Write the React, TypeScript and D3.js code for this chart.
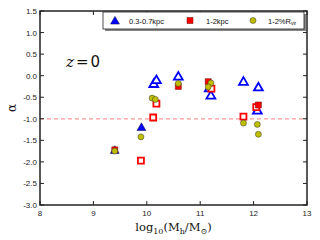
import { useEffect, useRef } from "react";
import * as d3 from "d3";

// log10(Mh/Msun) and alpha for each marker set
const triMass = [9.4, 9.9, 10.13, 10.18, 10.59, 11.17, 11.2, 11.81, 12.09, 12.07];
const triAlpha = [-1.72, -1.19, -0.18, -0.09, -0.01, -0.28, -0.45, -0.13, -0.26, -0.8];
const triOpen = [false, false, true, true, true, true, true, true, true, true];

const sqMass = [9.4, 9.89, 10.12, 10.18, 10.59, 11.15, 11.21, 11.81, 12.05, 12.09];
const sqAlpha = [-1.72, -1.97, -0.97, -0.65, -0.25, -0.14, -0.3, -0.95, -0.73, -0.68];
const sqOpen = [false, true, true, true, false, false, true, true, true, false];

const ciMass = [9.4, 9.89, 10.1, 10.16, 10.59, 11.2, 11.15, 11.81, 12.07, 12.09];
const ciAlpha = [-1.75, -1.42, -0.52, -0.55, -0.18, -0.17, -0.26, -1.1, -1.13, -1.36];

const xTicks = [8, 9, 10, 11, 12, 13];
const yTicks = [1.5, 1.0, 0.5, 0.0, -0.5, -1.0, -1.5, -2.0, -2.5, -3.0];
const legendLabels = ["0.3-0.7kpc", "1-2kpc", "1-2%R"];

const BLUE = "#0000ff";
const RED = "#ff0000";
const OLIVE = "#bfbf00";

const App = () => {
  const svgRef = useRef(null);

  useEffect(() => {
    const svg = d3.select(svgRef.current);
    svg.selectAll("*").remove();
    const width = 320;
    const height = 240;
    const margin = { top: 11, right: 13, bottom: 35, left: 40 };

    const x = d3.scaleLinear().domain([8, 13]).range([margin.left, width - margin.right]);
    const y = d3.scaleLinear().domain([-3, 1.5]).range([height - margin.bottom, margin.top]);
    const sans = "'Liberation Sans', Arial, sans-serif";
    const serif = "'DejaVu Serif', serif";

    // reference line
    svg
      .append("line")
      .attr("x1", x(8))
      .attr("x2", x(13))
      .attr("y1", y(-1))
      .attr("y2", y(-1))
      .attr("stroke", "#ff9999")
      .attr("stroke-width", 1.2)
      .attr("stroke-dasharray", "4,3");

    const tri = d3.symbol().type(d3.symbolTriangle).size(34);
    const sq = d3.symbol().type(d3.symbolSquare).size(36);

    triMass.forEach((m, i) => {
      const open = triOpen[i];
      svg
        .append("path")
        .attr("d", tri()!)
        .attr("transform", `translate(${x(m)},${y(triAlpha[i]) + 1})`)
        .attr("fill", open ? "#fff" : BLUE)
        .attr("stroke", open ? BLUE : "#000040")
        .attr("stroke-width", open ? 1.8 : 0.5);
    });

    sqMass.forEach((m, i) => {
      const open = sqOpen[i];
      svg
        .append("path")
        .attr("d", sq()!)
        .attr("transform", `translate(${x(m)},${y(sqAlpha[i])})`)
        .attr("fill", open ? "#fff" : RED)
        .attr("stroke", open ? RED : "#600")
        .attr("stroke-width", open ? 1.8 : 0.5);
    });

    ciMass.forEach((m, i) => {
      svg
        .append("circle")
        .attr("cx", x(m))
        .attr("cy", y(ciAlpha[i]))
        .attr("r", 3)
        .attr("fill", OLIVE)
        .attr("stroke", "#333")
        .attr("stroke-width", 0.5);
    });

    // frame
    svg
      .append("rect")
      .attr("x", x(8))
      .attr("y", y(1.5))
      .attr("width", x(13) - x(8))
      .attr("height", y(-3) - y(1.5))
      .attr("fill", "none")
      .attr("stroke", "#222")
      .attr("stroke-width", 1.5);

    // ticks, inward on all sides
    const tl = 4;
    xTicks.forEach((t) => {
      svg.append("line").attr("x1", x(t)).attr("x2", x(t)).attr("y1", y(-3)).attr("y2", y(-3) - tl).attr("stroke", "#222");
      svg.append("line").attr("x1", x(t)).attr("x2", x(t)).attr("y1", y(1.5)).attr("y2", y(1.5) + tl).attr("stroke", "#222");
      svg
        .append("text")
        .attr("x", x(t))
        .attr("y", y(-3) + 11)
        .attr("text-anchor", "middle")
        .attr("font-family", sans)
        .attr("font-size", 8)
        .attr("fill", "#222")
        .text(t);
    });
    yTicks.forEach((t) => {
      svg.append("line").attr("x1", x(8)).attr("x2", x(8) + tl).attr("y1", y(t)).attr("y2", y(t)).attr("stroke", "#222");
      svg.append("line").attr("x1", x(13)).attr("x2", x(13) - tl).attr("y1", y(t)).attr("y2", y(t)).attr("stroke", "#222");
      svg
        .append("text")
        .attr("x", x(8) - 3)
        .attr("y", y(t) + 3)
        .attr("text-anchor", "end")
        .attr("font-family", sans)
        .attr("font-size", 8)
        .attr("fill", "#222")
        .text(t.toFixed(1).replace("\u2212", "-"));
    });

    // z = 0 annotation
    const zt = svg
      .append("text")
      .attr("x", 66)
      .attr("y", 67)
      .attr("font-size", 15)
      .attr("fill", "#111");
    zt.append("tspan").attr("font-family", serif).attr("font-style", "italic").text("z");
    zt.append("tspan").attr("font-family", serif).attr("dx", 2).text("=");
    zt.append("tspan").attr("font-family", "'DejaVu Sans', sans-serif").attr("dx", 2).text("0");

    // axis labels
    svg
      .append("text")
      .attr("transform", `translate(16,${y(-0.75)}) rotate(-90)`)
      .attr("text-anchor", "middle")
      .attr("font-family", serif)
      .attr("font-size", 12)
      .attr("fill", "#111")
      .text("α");

    const xl = svg
      .append("text")
      .attr("x", x(10.5))
      .attr("y", 231)
      .attr("text-anchor", "middle")
      .attr("font-family", serif)
      .attr("font-size", 11.5)
      .attr("fill", "#111");
    xl.append("tspan").text("log");
    xl.append("tspan").attr("font-size", 8).attr("dy", 3).text("10");
    xl.append("tspan").attr("dy", -3).text("(M");
    xl.append("tspan").attr("font-size", 8).attr("dy", 3).text("h");
    xl.append("tspan").attr("dy", -3).text("/M");
    xl.append("tspan").attr("font-size", 8).attr("dy", 3).text("⊙");
    xl.append("tspan").attr("dy", -3).text(")");

    // legend
    const lg = svg.append("g");
    lg.append("rect").attr("x", 105).attr("y", 14).attr("width", 201).attr("height", 17).attr("fill", "#888");
    lg.append("rect")
      .attr("x", 103)
      .attr("y", 12)
      .attr("width", 201)
      .attr("height", 17)
      .attr("fill", "#fff")
      .attr("stroke", "#222")
      .attr("stroke-width", 0.8);
    const ly = 20.5;
    lg.append("path").attr("d", tri()!).attr("transform", `translate(115,${ly + 1})`).attr("fill", BLUE).attr("stroke", "#000040").attr("stroke-width", 0.5);
    lg.append("path").attr("d", sq()!).attr("transform", `translate(190,${ly})`).attr("fill", RED).attr("stroke", "#600").attr("stroke-width", 0.5);
    lg.append("circle").attr("cx", 253).attr("cy", ly).attr("r", 3).attr("fill", OLIVE).attr("stroke", "#333").attr("stroke-width", 0.5);
    const lx = [129, 206, 268];
    legendLabels.forEach((s, i) => {
      const t = lg
        .append("text")
        .attr("x", lx[i])
        .attr("y", ly + 3)
        .attr("font-family", sans)
        .attr("font-size", 7.5)
        .attr("fill", "#111")
        .text(s);
      if (i === 2) {
        t.append("tspan").attr("font-size", 5).attr("dy", 1.5).text("vir");
      }
    });
  }, []);

  return (
    <svg
      ref={svgRef}
      width={320}
      height={240}
      style={{ position: "absolute", left: 0, top: 0, background: "#fff" }}
    ></svg>
  );
};

export default App;
